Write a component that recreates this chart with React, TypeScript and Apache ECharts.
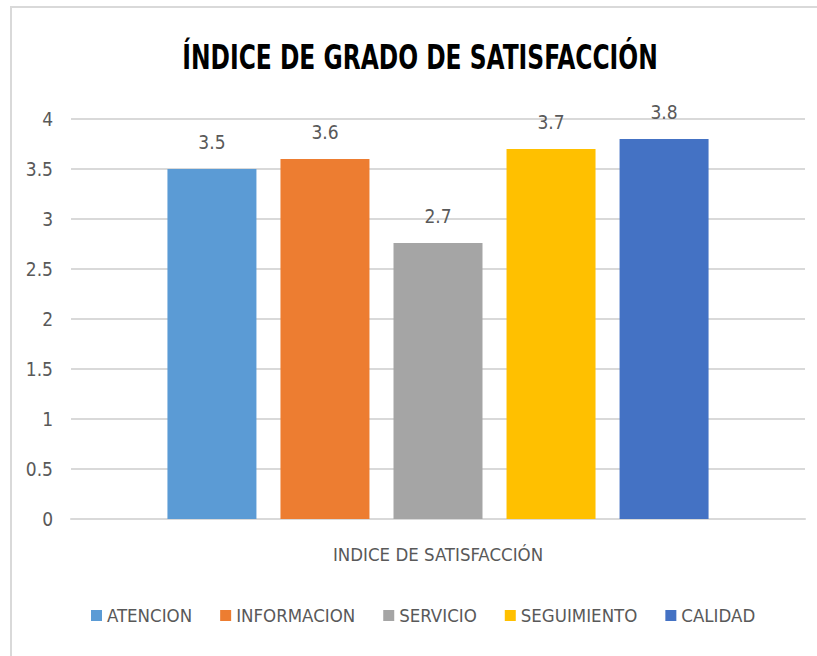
import React, { useEffect, useRef } from "react";
import * as echarts from "echarts";

const category = ["INDICE DE SATISFACCIÓN"];
const seriesNames = ["ATENCION", "INFORMACION", "SERVICIO", "SEGUIMIENTO", "CALIDAD"];
const seriesValues = [3.5, 3.6, 2.76, 3.7, 3.8];
const valueLabels = ["3.5", "3.6", "2.7", "3.7", "3.8"];
const seriesColors = ["#5B9BD5", "#ED7D31", "#A5A5A5", "#FFC000", "#4472C4"];
const titleText = "ÍNDICE DE GRADO DE SATISFACCIÓN";

const FONT = "'DejaVu Sans Condensed', 'Liberation Sans Narrow', sans-serif";

export default function App() {
  const ref = useRef<HTMLDivElement>(null);
  useEffect(() => {
    if (!ref.current) return;
    const chart = echarts.init(ref.current, undefined, { renderer: "svg" });
    chart.setOption({
      animation: false,
      backgroundColor: "#ffffff",
      textStyle: { fontFamily: FONT },
      graphic: [
        {
          type: "rect",
          shape: { x: 11, y: 7, width: 830, height: 680 },
          style: { fill: "none", stroke: "#D9D9D9", lineWidth: 2 },
          silent: true,
        },
        {
          type: "text",
          x: 420,
          y: 57,
          scaleX: 0.765,
          style: {
            text: titleText,
            fontFamily: FONT,
            fontWeight: "bold",
            fontSize: 34,
            fill: "#000000",
            textAlign: "center",
            textVerticalAlign: "middle",
          },
          silent: true,
        },
      ],
      legend: {
        bottom: 26,
        left: 86,
        itemWidth: 11,
        itemHeight: 11,
        itemGap: 28,
        icon: "rect",
        textStyle: { fontFamily: FONT, fontSize: 18.5, color: "#595959" },
        data: seriesNames,
      },
      grid: { left: 71, right: 12, top: 119, bottom: 137, containLabel: false },
      xAxis: {
        type: "category",
        data: category,
        axisLine: { show: true, lineStyle: { color: "#D9D9D9", width: 2 } },
        axisTick: { show: false },
        axisLabel: { fontFamily: FONT, fontSize: 18.5, color: "#595959", margin: 26 },
      },
      yAxis: {
        type: "value",
        min: 0,
        max: 4,
        interval: 0.5,
        axisLine: { show: false },
        axisTick: { show: false },
        splitLine: { lineStyle: { color: "#D9D9D9", width: 2 } },
        axisLabel: { fontFamily: FONT, fontSize: 19, color: "#595959", margin: 18 },
      },
      series: seriesNames.map((name, i) => ({
        name,
        type: "bar",
        data: [seriesValues[i]],
        barWidth: 89,
        barGap: "27%",
        itemStyle: { color: seriesColors[i] },
        label: {
          show: true,
          position: "top",
          distance: 18,
          fontFamily: FONT,
          fontSize: 19,
          color: "#595959",
          formatter: () => valueLabels[i],
        },
      })),
    });
    return () => chart.dispose();
  }, []);
  return (
    <div
      ref={ref}
      style={{ position: "fixed", left: 0, top: 0, width: 817, height: 656 }}
    />
  );
}
